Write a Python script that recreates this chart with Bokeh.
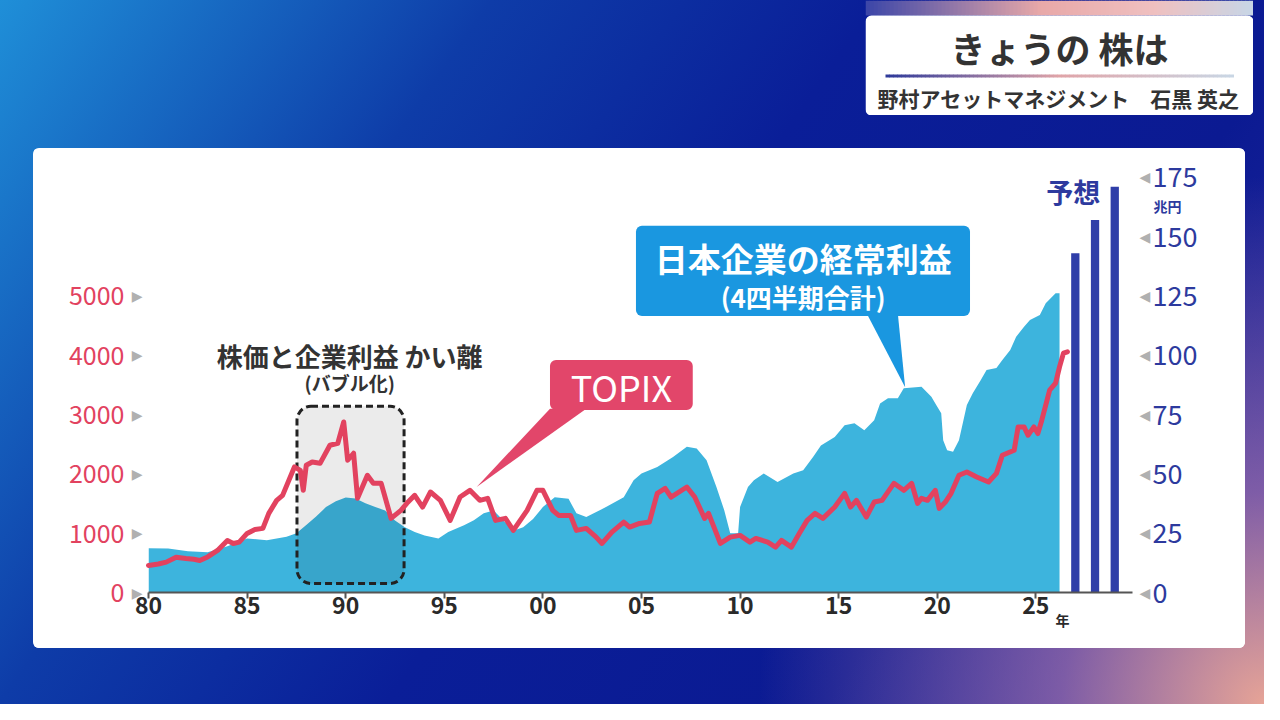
from bokeh.plotting import figure
from bokeh.layouts import column, row
from bokeh.models import Range1d, LinearAxis, FixedTicker, BoxAnnotation, Label, Spacer
from bokeh.embed import file_html
from bokeh.resources import INLINE

# ---------------- data ----------------
earn_year = [1980.0, 1981.0, 1982.0, 1983.0, 1984.0, 1985.0, 1986.0, 1987.0, 1987.5, 1988.0,
             1988.5, 1989.0, 1989.5, 1990.0, 1990.5, 1991.0, 1991.5, 1992.0, 1992.5, 1993.0,
             1993.5, 1994.0, 1994.7, 1995.2, 1996.0, 1996.5, 1997.0, 1997.5, 1998.0, 1998.5,
             1999.0, 1999.5, 2000.0, 2000.6, 2001.3, 2001.7, 2002.2, 2003.2, 2004.1, 2004.6,
             2005.0, 2005.8, 2006.6, 2007.3, 2007.8, 2008.3, 2008.8, 2009.2, 2009.5, 2009.9,
             2010.0, 2010.4, 2010.7, 2011.2, 2011.9, 2012.7, 2013.2, 2013.7, 2014.1, 2014.8,
             2015.3, 2015.8, 2016.3, 2016.8, 2017.1, 2017.5, 2018.0, 2018.3, 2019.2, 2019.7,
             2020.0, 2020.2, 2020.3, 2020.5, 2020.8, 2021.1, 2021.5, 2021.8, 2022.2, 2022.5,
             2023.0, 2023.3, 2023.7, 2024.0, 2024.4, 2024.7, 2025.2, 2025.5, 2026.0, 2026.2]
earn_value = [18.7, 18.5, 17.4, 17.0, 19.5, 22.8, 22.0, 23.5, 25.0, 28.5,
              32.0, 36.0, 38.5, 40.0, 39.6, 37.6, 36.0, 34.6, 30.4, 27.5,
              25.5, 24.0, 22.8, 25.5, 28.3, 30.5, 33.4, 34.6, 30.4, 26.0,
              27.5, 31.0, 36.0, 40.2, 39.5, 33.4, 31.8, 36.0, 40.2, 47.3,
              50.2, 52.9, 57.1, 61.4, 60.7, 55.7, 44.5, 34.6, 25.0, 25.0,
              36.0, 44.5, 47.3, 50.2, 46.6, 50.2, 51.5, 57.1, 62.0, 65.6,
              70.5, 71.3, 68.4, 72.6, 79.7, 81.9, 81.9, 86.1, 86.7, 82.5,
              78.3, 75.6, 64.2, 60.0, 59.3, 64.2, 79.0, 84.0, 89.5, 93.8,
              94.6, 98.0, 102.2, 107.8, 112.0, 114.9, 117.0, 121.9, 126.1, 126.1]

topix_year = [1980.0, 1980.5, 1980.9, 1981.4, 1981.9, 1982.3, 1982.6, 1983.0, 1983.5, 1984.0,
              1984.3, 1984.6, 1985.0, 1985.4, 1985.8, 1986.1, 1986.5, 1986.8, 1987.4, 1987.7,
              1987.85, 1988.0, 1988.3, 1988.7, 1989.2, 1989.6, 1989.9, 1990.1, 1990.4, 1990.6,
              1991.1, 1991.4, 1991.8, 1992.3, 1992.8, 1993.1, 1993.5, 1993.9, 1994.3, 1994.8,
              1995.3, 1995.8, 1996.3, 1996.8, 1997.2, 1997.6, 1998.1, 1998.5, 1999.2, 1999.7,
              2000.0, 2000.5, 2000.8, 2001.4, 2001.7, 2002.2, 2002.7, 2003.0, 2003.5, 2004.1,
              2004.4, 2004.9, 2005.4, 2005.8, 2006.2, 2006.5, 2007.3, 2007.7, 2008.2, 2008.4,
              2008.6, 2008.8, 2009.0, 2009.5, 2010.0, 2010.5, 2010.8, 2011.4, 2011.8, 2012.1,
              2012.6, 2013.0, 2013.4, 2013.8, 2014.2, 2014.8, 2015.3, 2015.6, 2015.9, 2016.4,
              2016.8, 2017.2, 2017.8, 2018.3, 2018.7, 2019.0, 2019.2, 2019.5, 2019.9, 2020.1,
              2020.4, 2020.7, 2021.1, 2021.5, 2022.0, 2022.6, 2023.0, 2023.3, 2023.9, 2024.1,
              2024.4, 2024.6, 2024.9, 2025.1, 2025.3, 2025.7, 2026.0, 2026.2, 2026.4, 2026.6]
topix_value = [456, 480, 512, 596, 574, 560, 540, 600, 709, 878,
               827, 850, 996, 1064, 1081, 1334, 1554, 1638, 2117, 2060,
               1723, 2145, 2201, 2178, 2483, 2517, 2876, 2230, 2348, 1588,
               1976, 1841, 1841, 1250, 1385, 1503, 1638, 1441, 1694, 1554,
               1216, 1610, 1723, 1554, 1588, 1216, 1250, 1047, 1385, 1723,
               1723, 1385, 1300, 1300, 1047, 1081, 934, 827, 1019, 1188,
               1103, 1165, 1188, 1672, 1756, 1610, 1779, 1610, 1250, 1334,
               1165, 996, 827, 934, 963, 850, 912, 850, 765, 878,
               765, 996, 1216, 1334, 1250, 1441, 1672, 1441, 1554, 1272,
               1525, 1554, 1841, 1723, 1841, 1503, 1588, 1554, 1723, 1419,
               1520, 1672, 1976, 2032, 1948, 1863, 2009, 2314, 2398, 2792,
               2792, 2652, 2792, 2680, 2905, 3412, 3530, 3805, 4036, 4059]

fc_year = [2027, 2028, 2029]
fc_value = [143, 157, 171]

x_ticks = [1980, 1985, 1990, 1995, 2000, 2005, 2010, 2015, 2020, 2025]
x_labels = ["80", "85", "90", "95", "00", "05", "10", "15", "20", "25"]
year_unit_pos = 2026.35
left_ticks = [0, 1000, 2000, 3000, 4000, 5000]
right_ticks = [0, 25, 50, 75, 100, 125, 150, 175]
right_unit_pos = 163

FONT = "Noto Sans CJK JP"
RED = "#e2425f"
BLUE_DARK = "#2d3a9e"
AREA = "#3db4dd"


def hex2rgb(h):
    return [int(h[i:i + 2], 16) for i in (1, 3, 5)]


def gradient_colors(stops, n):
    out = []
    for k in range(n):
        t = k / (n - 1)
        for j in range(len(stops) - 1):
            if stops[j][0] <= t <= stops[j + 1][0]:
                a, b = stops[j], stops[j + 1]
                f = (t - a[0]) / (b[0] - a[0])
                ca, cb = hex2rgb(a[1]), hex2rgb(b[1])
                out.append("#%02x%02x%02x" % tuple(int(round(ca[i] + (cb[i] - ca[i]) * f)) for i in range(3)))
                break
    return out


# ---------------- header box ----------------
hw, hh = 388, 115
hdr = figure(width=hw, height=hh, x_range=Range1d(0, hw), y_range=Range1d(hh, 0),
             output_backend="svg", toolbar_location=None, x_axis_location=None,
             y_axis_location=None, min_border=0, outline_line_color=None,
             background_fill_color=None, border_fill_color=None)
hdr.xgrid.grid_line_color = None
hdr.ygrid.grid_line_color = None

n_strip = 97
strip_cols = gradient_colors([(0, "#3d47a8"), (0.45, "#e8a8a8"), (0.75, "#efc0c0"), (1, "#c8d6e6")], n_strip)
sw = hw / n_strip
hdr.quad(left=[k * sw for k in range(n_strip)], right=[(k + 1) * sw + 0.6 for k in range(n_strip)],
         top=[0] * n_strip, bottom=[15] * n_strip, fill_color=strip_cols, line_color=None)
hdr.add_layout(BoxAnnotation(left=0, right=hw, top=15, bottom=hh, fill_color="white", fill_alpha=1,
                             line_color=None, line_alpha=0, border_radius=6))
n_ul = 87
ul_cols = gradient_colors([(0, "#2f3a9a"), (0.5, "#e0a4a8"), (1, "#c9d6e4")], n_ul)
uw = 348 / n_ul
ul = hdr.quad(left=[20 + k * uw for k in range(n_ul)], right=[20 + (k + 1) * uw + 0.5 for k in range(n_ul)],
              top=[74] * n_ul, bottom=[77] * n_ul, fill_color=ul_cols, line_color=None)
ul.level = "overlay"
hdr.add_layout(Label(x=194, y=47, text="きょうの 株は", text_font=FONT, text_font_style="bold",
                     text_font_size="35px", text_color="#333333", text_align="center",
                     text_baseline="middle"))
hdr.add_layout(Label(x=193, y=97, text="野村アセットマネジメント　石黒 英之", text_font=FONT,
                     text_font_style="bold", text_font_size="21px", text_color="#333333",
                     text_align="center", text_baseline="middle"))

# ---------------- chart ----------------
p = figure(width=1212, height=500, x_range=Range1d(1980, 2029.9), y_range=Range1d(0, 180),
           output_backend="svg", toolbar_location=None, x_axis_location=None, y_axis_location=None,
           min_border_left=115, min_border_right=113, min_border_top=17, min_border_bottom=56,
           background_fill_color="white", border_fill_color="white", outline_line_color=None,
           margin=(33, 0, 0, 33), styles={"border-radius": "6px", "overflow": "hidden",
                                           "background": "white"})
p.extra_y_ranges = {"topix": Range1d(0, 7200)}
p.xgrid.grid_line_color = None
p.ygrid.grid_line_color = None

# inner bottom axis: axis line, tick marks (as minor ticks) and the small "年" unit
xa_in = LinearAxis(ticker=FixedTicker(ticks=[year_unit_pos], minor_ticks=x_ticks),
                   major_label_overrides={year_unit_pos: "年"})
xa_in.axis_line_color = "#555555"
xa_in.axis_line_width = 2
xa_in.major_tick_line_color = None
xa_in.major_tick_out = 0
xa_in.major_tick_in = 0
xa_in.minor_tick_line_color = "#555555"
xa_in.minor_tick_line_width = 2
xa_in.minor_tick_out = 6
xa_in.minor_tick_in = 0
xa_in.major_label_standoff = 11
xa_in.major_label_text_font = FONT
xa_in.major_label_text_font_style = "bold"
xa_in.major_label_text_font_size = "14px"
xa_in.major_label_text_color = "#2a2a2a"
p.add_layout(xa_in, "below")

# outer bottom axis: year numbers
xa = LinearAxis(ticker=FixedTicker(ticks=x_ticks),
                major_label_overrides=dict(zip(x_ticks, x_labels)))
xa.axis_line_color = None
xa.major_tick_line_color = None
xa.major_tick_out = 0
xa.major_tick_in = 0
xa.major_label_standoff = -36
xa.major_label_text_font = FONT
xa.major_label_text_font_style = "bold"
xa.major_label_text_font_size = "23px"
xa.major_label_text_color = "#2a2a2a"
p.add_layout(xa, "below")


def side_axis(rng, ticks, overrides, color, size, font, standoff, style="normal"):
    a = LinearAxis(ticker=FixedTicker(ticks=ticks))
    if rng:
        a.y_range_name = rng
    if overrides is not None:
        a.major_label_overrides = overrides
    a.axis_line_color = None
    a.major_tick_line_color = None
    a.major_tick_out = 0
    a.major_tick_in = 0
    a.major_label_standoff = standoff
    a.major_label_text_color = color
    a.major_label_text_font_size = size
    a.major_label_text_font = font
    a.major_label_text_font_style = style
    return a


p.add_layout(side_axis("topix", left_ticks, {t: "▶" for t in left_ticks}, "#b0b0b0", "14px",
                       "DejaVu Sans", 6), "left")
p.add_layout(side_axis("topix", left_ticks, None, RED, "25px", FONT, 4), "left")
p.add_layout(side_axis(None, right_ticks, {t: "◀" for t in right_ticks}, "#b0b0b0", "14px",
                       "DejaVu Sans", 7), "right")
p.add_layout(side_axis(None, [right_unit_pos], {right_unit_pos: "兆円"}, BLUE_DARK, "14px", FONT, 0,
                       "bold"), "right")
p.add_layout(side_axis(None, right_ticks, None, BLUE_DARK, "27px", FONT, -32), "right")

# earnings area
p.varea(x=earn_year, y1=0, y2=earn_value, fill_color=AREA, fill_alpha=1)
# forecast bars
p.vbar(x=fc_year, top=fc_value, width=0.42, fill_color="#2f3ea8", line_color=None)

# bubble box
p.add_layout(BoxAnnotation(left=1987.53, right=1992.96, bottom=3.8, top=78.5, fill_color="black",
                           fill_alpha=0.08, line_color="#222222", line_alpha=1, line_width=3,
                           line_dash="7 4", border_radius=14))

# TOPIX line
tl = p.line(topix_year, topix_value, y_range_name="topix", line_color=RED, line_width=5,
            line_join="round", line_cap="round")
tl.level = "overlay"

# callouts
p.patch([2000.36, 2002.2, 1996.64], [77.5, 77.5, 44.5], fill_color="#e2466a", line_color=None)
p.add_layout(BoxAnnotation(left=2000.36, right=2007.6, bottom=76.9, top=98.0, fill_color="#e2466a",
                           fill_alpha=1, line_color=None, line_alpha=0, border_radius=6))
p.add_layout(Label(x=2003.98, y=87.0, text="TOPIX", text_font=FONT, text_font_size="36px",
                   text_color="white", text_align="center", text_baseline="middle"))

p.patch([2016.43, 2018.0, 2018.37], [117.5, 117.5, 86.5], fill_color="#1a97e0", line_color=None)
p.add_layout(BoxAnnotation(left=2004.72, right=2021.66, bottom=116.6, top=154.6, fill_color="#1a97e0",
                           fill_alpha=1, line_color=None, line_alpha=0, border_radius=6))
p.add_layout(Label(x=2013.2, y=141.2, text="日本企業の経常利益", text_font=FONT, text_font_style="bold",
                   text_font_size="33px", text_color="white", text_align="center",
                   text_baseline="middle"))
p.add_layout(Label(x=2013.2, y=124.8, text="(4四半期合計)", text_font=FONT, text_font_style="bold",
                   text_font_size="26px", text_color="white", text_align="center",
                   text_baseline="middle"))

# bubble annotation texts
p.add_layout(Label(x=1990.2, y=99.7, text="株価と企業利益 かい離", text_font=FONT, text_font_style="bold",
                   text_font_size="26px", text_color="#333333", text_align="center",
                   text_baseline="middle"))
p.add_layout(Label(x=1990.2, y=88.5, text="(バブル化)", text_font=FONT, text_font_style="bold",
                   text_font_size="19px", text_color="#333333", text_align="center",
                   text_baseline="middle"))

p.add_layout(Label(x=2026.9, y=169, text="予想", text_font=FONT, text_font_style="bold",
                   text_font_size="27px", text_color=BLUE_DARK, text_align="center",
                   text_baseline="middle"))

header_row = row(Spacer(width=865, height=hh), hdr)
page = column(header_row, p, width=1264, height=704,
              styles={"background": "radial-gradient(ellipse 40% 75% at 100% 100%, rgba(240,170,150,0.95) 0%, "
                                    "rgba(190,130,175,0.6) 40%, rgba(60,50,160,0) 100%), "
                                    "linear-gradient(125deg, #1f8fd8 0%, #0e3ca8 28%, #0a1e98 50%, #0b1a92 75%, #2a2aa0 100%)"})

open("out.html", "w").write(file_html(page, INLINE))
